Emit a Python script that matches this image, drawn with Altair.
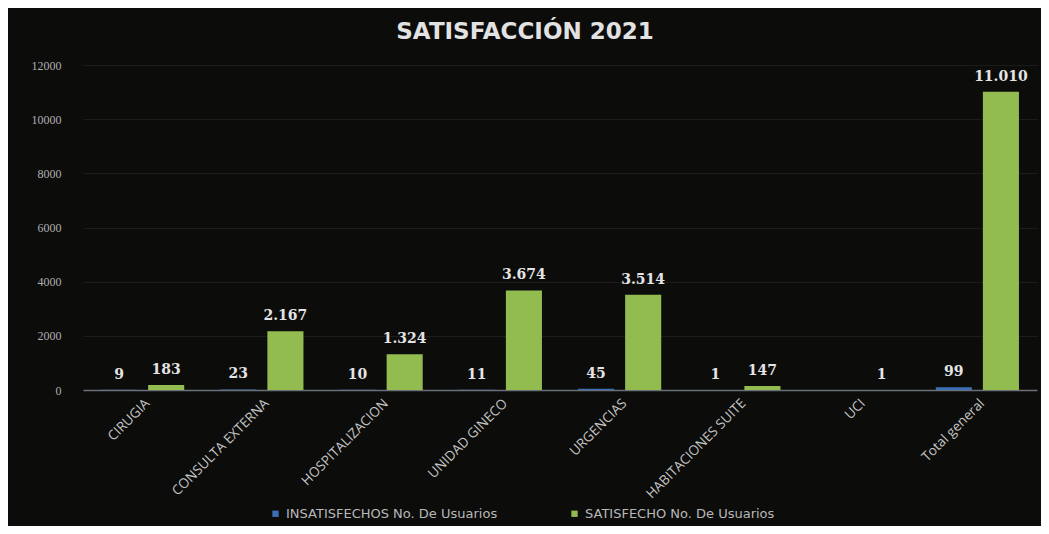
import altair as alt
import pandas as pd

categorias = ["CIRUGIA", "CONSULTA EXTERNA", "HOSPITALIZACION", "UNIDAD GINECO",
              "URGENCIAS", "HABITACIONES SUITE", "UCI", "Total general"]
insatisfechos = [9, 23, 10, 11, 45, 1, None, 99]
satisfechos = [183, 2167, 1324, 3674, 3514, 147, 1, 11010]
series = ["INSATISFECHOS No. De Usuarios", "SATISFECHO No. De Usuarios"]
colores = ["#3d6fb6", "#93bc50"]
y_ticks = [0, 2000, 4000, 6000, 8000, 10000, 12000]

rows = []
for c, a, b in zip(categorias, insatisfechos, satisfechos):
    if a is not None:
        rows.append({"cat": c, "serie": series[0], "valor": a})
    rows.append({"cat": c, "serie": series[1], "valor": b})
df = pd.DataFrame(rows)

x = alt.X("cat:N", sort=categorias,
          scale=alt.Scale(paddingInner=0, paddingOuter=0),
          axis=alt.Axis(title=None, labelAngle=-45, labelAlign="right",
                        labelColor="#c4c4c4", labelFont="Open Sans", labelFontSize=13.5,
                        labelPadding=6, ticks=False, domainColor="#6a6f78",
                        domainWidth=1.5, labelLimit=300))
xo = alt.XOffset("serie:N", sort=series,
                 scale=alt.Scale(paddingInner=0.234, paddingOuter=0.383))
y = alt.Y("valor:Q", scale=alt.Scale(domain=[0, 12000], nice=False),
          axis=alt.Axis(title=None, values=y_ticks, format="d", domain=False, ticks=False,
                        labelPadding=22, labelColor="#b0b0b0",
                        labelFont="Liberation Serif", labelFontSize=12,
                        gridColor="#1c1c1c", gridWidth=1))

base = alt.Chart(df)

bars = base.mark_bar().encode(
    x=x, xOffset=xo, y=y,
    color=alt.Color("serie:N", scale=alt.Scale(domain=series, range=colores),
                    legend=alt.Legend(orient="none", legendX=186, legendY=442,
                                      direction="horizontal", title=None,
                                      symbolType="square", symbolSize=40,
                                      labelColor="#b8b8b8", labelFont="DejaVu Sans",
                                      labelFontSize=13, columnPadding=70,
                                      labelLimit=400, symbolStrokeWidth=0)),
)

labels = base.transform_calculate(
    etiqueta="replace(format(datum.valor, ','), ',', '.')"
).mark_text(baseline="bottom", dy=-8, font="DejaVu Serif", fontWeight="bold",
            fontSize=14, color="#e4e4e4").encode(
    x=x, xOffset=xo, y=y, text="etiqueta:N"
)

chart = alt.layer(bars, labels).properties(
    width=954, height=325,
    autosize=alt.AutoSizeParams(type="none"),
    padding={"left": 75, "top": 57, "right": 4, "bottom": 136},
    background="#0c0c0b",
    title=alt.TitleParams("SATISFACCIÓN  2021", font="DejaVu Sans", fontSize=23,
                          fontWeight="bold", color="#e2e2e2", anchor="middle",
                          dx=-35, offset=15),
).configure_view(stroke=None)

chart.save("out.html", embed_options={"renderer": "svg", "actions": False})
